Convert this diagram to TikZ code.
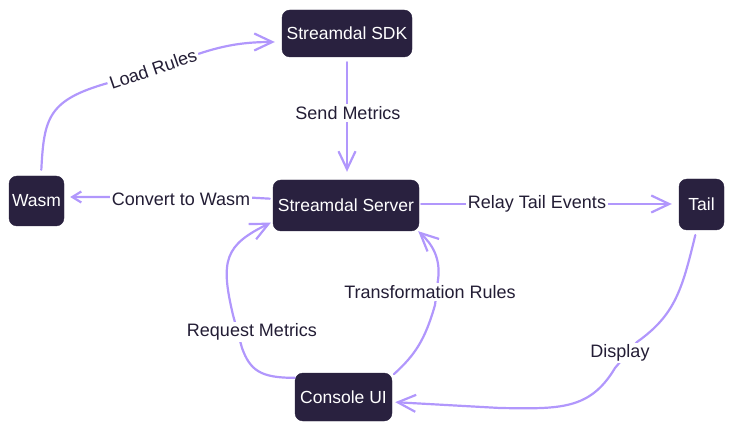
\documentclass[tikz,border=0pt]{standalone}
\usepackage{fontspec}
\setmainfont{Liberation Sans}
\usetikzlibrary{arrows.meta}
\definecolor{boxfill}{HTML}{29213F}
\definecolor{arrowc}{HTML}{B197FC}
\definecolor{labelc}{HTML}{231D35}
\tikzset{
  box/.style={fill=boxfill, draw=boxfill, rounded corners=8pt, text=white, inner sep=0pt,
    font=\fontsize{17.5}{20}\selectfont},
  conn/.style={draw=arrowc, line width=2.2pt, line cap=round, line join=round,
    -{Straight Barb[length=18pt,width=17pt,line width=2.2pt]}},
  smallconn/.style={draw=arrowc, line width=2.2pt, line cap=round, line join=round,
    -{Straight Barb[length=9pt,width=11pt,line width=2.2pt]}},
  lbl/.style={fill=white, text=labelc, inner sep=2pt, font=\fontsize{18}{20}\selectfont},
}
\begin{document}
\begin{tikzpicture}[x=1pt,y=-1pt]
\useasboundingbox (0,0) rectangle (733,430);
% boxes
\node[box, minimum width=130pt, minimum height=47pt] (sdk) at (347,33.5) {Streamdal SDK};
\node[box, minimum width=55pt, minimum height=50pt] (wasm) at (36.5,201) {Wasm};
\node[box, minimum width=146pt, minimum height=51pt] (server) at (346,205.5) {Streamdal Server};
\node[box, minimum width=45pt, minimum height=51pt] (tail) at (701.5,204.5) {Tail};
\node[box, minimum width=97pt, minimum height=48pt] (console) at (343.5,397) {Console UI};
% connectors
\draw[conn, shorten <=6pt, shorten >=7pt] ([xshift=4.5pt]wasm.north)
  .. controls (44,118) and (48,100) .. (108,83) -- (198,54)
  .. controls (225,45) and (245,42) .. ([yshift=-8.5pt]sdk.west);
\node[lbl, rotate=19] (l1) at (153,69) {Load Rules};

\draw[conn, shorten <=5pt, shorten >=8pt] (sdk.south) -- (sdk.south |- server.north);
\node[lbl] (l2) at (348,113) {Send Metrics};

\draw[smallconn, shorten <=3pt, shorten >=6pt] ([yshift=6.5pt]server.west)
  .. controls (255,197) .. (240,197) -- ([yshift=4pt]wasm.east);
\node[lbl] (l3) at (181,199) {Convert to Wasm};

\draw[conn, shorten <=2pt, shorten >=7pt] ([yshift=1.5pt]server.east) -- ([yshift=0.5pt]tail.west);
\node[lbl] (l4) at (537,204) {Relay Tail Events};

\draw[conn, shorten >=1pt] ([yshift=-5pt]console.north west)
  .. controls (260,378) and (250,370) .. (242,348) -- (233,315)
  .. controls (220,260) and (225,245) .. ([xshift=-1pt,yshift=9pt]server.south west);
\node[lbl] (l5) at (252,332) {Request Metrics};

\draw[conn, shorten <=1pt] ([xshift=1pt,yshift=-2pt]console.north east)
  .. controls (415,355) and (425,340) .. (435,305) -- (438,280)
  .. controls (441,258) and (432,244) .. ([xshift=-1pt]server.south east);
\node[lbl] (l6) at (430,292) {Transformation Rules};

\draw[conn, shorten <=5pt, shorten >=3pt] ([xshift=-5pt]tail.south)
  .. controls (682,290) and (675,315) .. (637,342) -- (615,368)
  .. controls (590,410) and (560,409) .. (500,408) -- ([yshift=-5pt]console.east);
\node[lbl] (l7) at (620,353) {Display};
\end{tikzpicture}
\end{document}
